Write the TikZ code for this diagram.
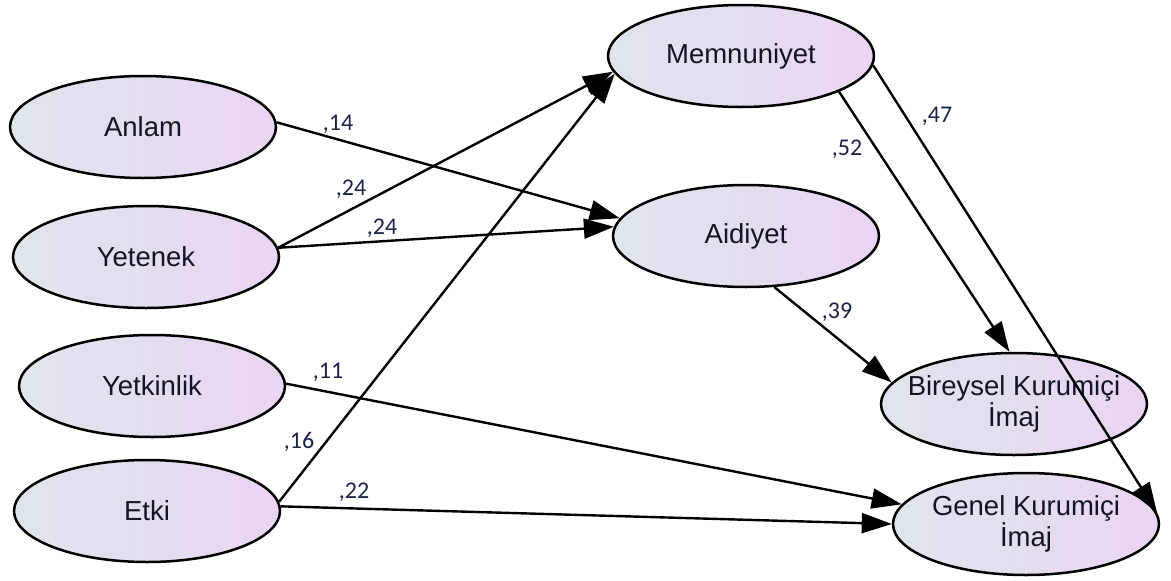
\documentclass[tikz,border=0pt]{standalone}
\usepackage{fontspec}
\setmainfont{Liberation Sans}
\newfontfamily\coeffont{Carlito}
\usetikzlibrary{shapes.geometric,arrows.meta}
\definecolor{fillleft}{RGB}{222,230,236}
\definecolor{fillright}{RGB}{234,213,243}
\definecolor{nametext}{RGB}{20,20,36}
\definecolor{coeftext}{RGB}{26,36,72}

\begin{document}
\begin{tikzpicture}[x=1pt,y=-1pt,
  latent/.style={ellipse, draw=black, line width=2.5pt,
    minimum width=266pt, minimum height=102pt, inner sep=0pt,
    left color=fillleft, right color=fillright,
    text=nametext, font=\fontsize{27.5}{31}\selectfont, align=center},
  causal/.style={line width=2.4pt, -{Triangle[length=30pt,width=20pt]}},
  coef/.style={text=coeftext, font=\coeffont\fontsize{24}{28}\selectfont, inner sep=0pt}
]
\useasboundingbox (0,0) rectangle (1171,581);

% exogenous factors
\node[latent] (anlam)     at (143,127) {Anlam};
\node[latent] (yetenek)   at (146,257) {Yetenek};
\node[latent] (yetkinlik) at (152,386) {Yetkinlik};
\node[latent] (etki)      at (147,511) {Etki};

% mediators and outcomes
\node[latent] (memnuniyet) at (741,56)  {Memnuniyet};
\node[latent] (aidiyet)    at (746,236) {Aidiyet};
\node[latent] (bireysel)   at (1014,404) {\makebox[180pt]{Bireysel Kurumiçi}\\İmaj};
\node[latent] (genel)      at (1026,524) {\makebox[180pt]{Genel Kurumiçi}\\İmaj};

% paths
\draw[causal] (anlam.2)        -- (aidiyet.172);
\draw[causal] (yetenek.4)      -- (memnuniyet.187);
\draw[causal] (yetenek.4)      -- (aidiyet.176);
\draw[causal] (etki.4)         -- (memnuniyet.188);
\draw[causal] (yetkinlik.1)    -- (genel.171);
\draw[causal] (etki.2)         -- (genel.180);
\draw[causal] (memnuniyet.-20) -- (bireysel.95);
\draw[causal] (memnuniyet.-4)  -- (genel.5);
\draw[causal] (aidiyet.-61)    -- (bireysel.170);

% standardized coefficients
\node[coef] (c14) at (338,124) {,14};
\node[coef] (c24a) at (351,189) {,24};
\node[coef] (c24b) at (382,228) {,24};
\node[coef] (c11) at (328,372) {,11};
\node[coef] (c16) at (299,442) {,16};
\node[coef] (c22) at (354,492) {,22};
\node[coef] (c52) at (847,149) {,52};
\node[coef] (c47) at (937,116) {,47};
\node[coef] (c39) at (837,312) {,39};
\end{tikzpicture}
\end{document}
